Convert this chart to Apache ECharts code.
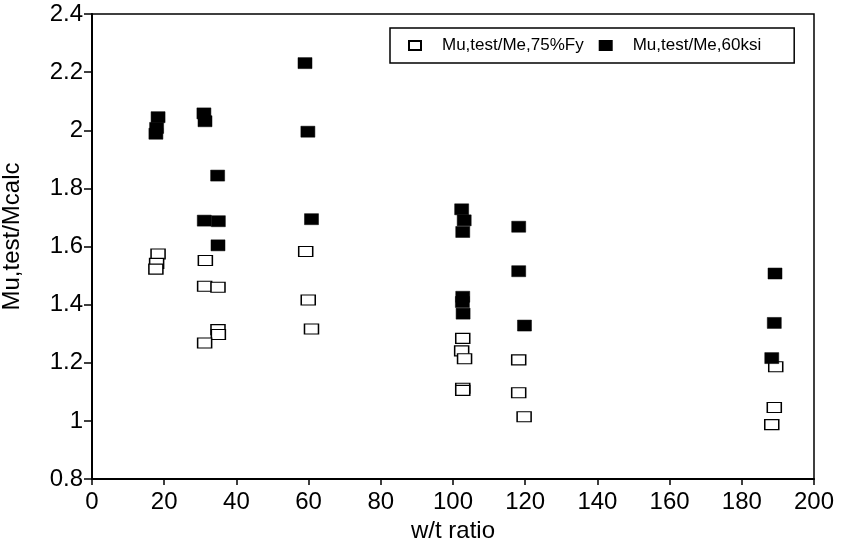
<!DOCTYPE html>
<html>
<head>
<meta charset="utf-8">
<script src="https://cdn.jsdelivr.net/npm/echarts@6/dist/echarts.min.js"></script>
<style>
  html, body { margin: 0; padding: 0; background: #fff; }
  #chart { width: 842px; height: 545px; }
</style>
</head>
<body>
<div id="chart"></div>
<script>
// w/t ratio vs Mu,test/Mcalc
const open75 = [
  [18.3, 1.574], [17.9, 1.542], [17.7, 1.522],
  [31.4, 1.552], [31.2, 1.463], [34.9, 1.460], [34.9, 1.314], [35.0, 1.297], [31.2, 1.268],
  [59.2, 1.583], [59.9, 1.416], [60.8, 1.316],
  [102.7, 1.284], [102.4, 1.241], [103.2, 1.214], [102.7, 1.112], [102.7, 1.105],
  [118.2, 1.210], [118.2, 1.097], [119.7, 1.014],
  [189.4, 1.186], [189.0, 1.046], [188.3, 0.987]
]

const filled60 = [
  [18.3, 2.045], [17.9, 2.008], [17.7, 1.988],
  [31.0, 2.058], [31.3, 2.031], [34.8, 1.844], [31.1, 1.689], [35.0, 1.687], [34.9, 1.604],
  [59.0, 2.231], [59.8, 1.995], [60.8, 1.694],
  [102.4, 1.728], [103.1, 1.690], [102.7, 1.650], [102.7, 1.427], [102.6, 1.409], [102.8, 1.369],
  [118.2, 1.668], [118.2, 1.515], [119.8, 1.328],
  [189.2, 1.507], [189.0, 1.337], [188.3, 1.216]
]

const seriesNames = ['Mu,test/Me,75%Fy', 'Mu,test/Me,60ksi']
const xName = 'w/t ratio'
const yName = 'Mu,test/Mcalc'

const FONT = 'Liberation Sans'

var chart = echarts.init(document.getElementById('chart'))

var axisCommon = {
  axisLine: { show: true, lineStyle: { color: '#000', width: 2 } },
  axisTick: { show: true, inside: false, length: 7, lineStyle: { color: '#000', width: 1.5 } },
  splitLine: { show: false },
  axisLabel: { color: '#000', fontFamily: FONT, fontSize: 24 }
}

chart.setOption({
  backgroundColor: '#fff',
  animation: false,
  grid: {
    left: 92, right: 28, top: 14, bottom: 66,
    containLabel: false,
    outerBoundsMode: 'none',
    show: true, borderColor: '#000', borderWidth: 1.5, backgroundColor: 'transparent'
  },
  legend: {
    left: 390, top: 28,
    padding: [9, 33, 9, 18],
    itemGap: 15,
    itemWidth: 12, itemHeight: 9,
    borderColor: '#000', borderWidth: 1.5,
    backgroundColor: '#fff',
    icon: 'rect',
    textStyle: { color: '#000', fontFamily: FONT, fontSize: 17, padding: [0, 0, 0, 16] },
    data: seriesNames
  },
  xAxis: Object.assign({}, axisCommon, {
    type: 'value', min: 0, max: 200, interval: 20,
    name: xName, nameLocation: 'middle', nameGap: 36,
    nameTextStyle: { color: '#000', fontFamily: FONT, fontSize: 24 },
    axisTick: Object.assign({}, axisCommon.axisTick, { length: 6 }),
    axisLabel: Object.assign({}, axisCommon.axisLabel, { margin: 11 })
  }),
  yAxis: Object.assign({}, axisCommon, {
    type: 'value', min: 0.8, max: 2.4, interval: 0.2,
    name: yName, nameLocation: 'middle', nameGap: 68,
    nameTextStyle: { color: '#000', fontFamily: FONT, fontSize: 24, padding: [0, 0, 0, 20] },
    axisTick: Object.assign({}, axisCommon.axisTick, { length: 8 }),
    axisLabel: Object.assign({}, axisCommon.axisLabel, { margin: 9 })
  }),
  series: [
    {
      name: seriesNames[0],
      type: 'scatter',
      symbol: 'rect',
      symbolSize: [14, 10],
      itemStyle: { color: '#fff', borderColor: '#000', borderWidth: 1.3, opacity: 1 },
      data: open75
    },
    {
      name: seriesNames[1],
      type: 'scatter',
      symbol: 'rect',
      symbolSize: [14, 11],
      itemStyle: { color: '#000', borderColor: '#000', borderWidth: 0.5, opacity: 1 },
      data: filled60
    }
  ]
})
</script>
</body>
</html>
